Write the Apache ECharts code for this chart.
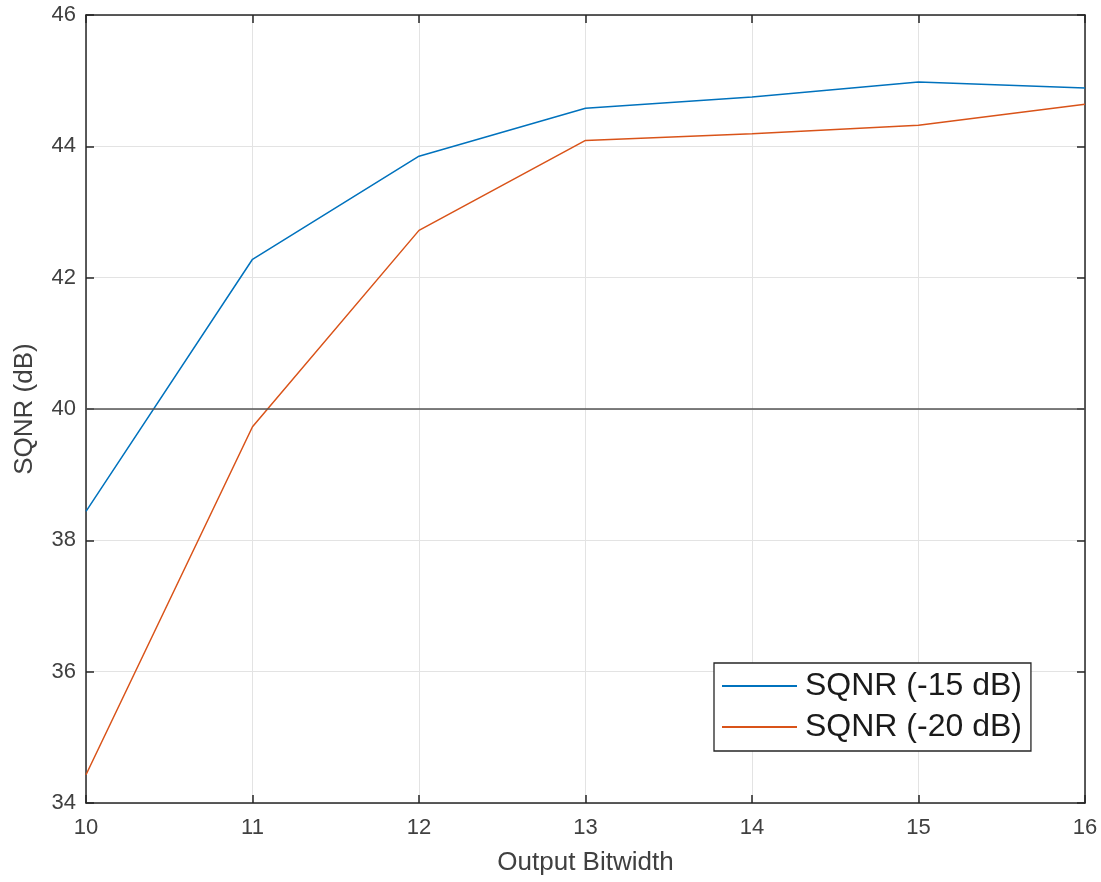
<!DOCTYPE html>
<html><head><meta charset="utf-8">
<script src="https://cdn.jsdelivr.net/npm/echarts@6/dist/echarts.min.js"></script>
<style>html,body{margin:0;padding:0;background:#fff}#c{width:1101px;height:882px}</style>
</head><body><div id="c"></div>
<script>
const bitwidths = [10, 11, 12, 13, 14, 15, 16];
const sqnr15 = [38.44, 42.28, 43.85, 44.58, 44.75, 44.98, 44.89];
const sqnr20 = [34.43, 39.73, 42.72, 44.09, 44.19, 44.32, 44.64];
const refLevel = 40;
const seriesNames = ['SQNR (-15 dB)', 'SQNR (-20 dB)'];

const chart = echarts.init(document.getElementById('c'), null, {renderer: 'canvas'});
const axisCol = '#262626';
const labCol = '#404040';
const font = 'Liberation Sans, Arial, sans-serif';
const hidden = {show: false};
chart.setOption({
  animation: false,
  backgroundColor: '#fff',
  grid: {left: 86, right: 16, top: 15, bottom: 79, containLabel: false},
  legend: {
    show: true, orient: 'vertical', left: 714, top: 663,
    padding: [7, 9, 8, 8],
    itemWidth: 75, itemHeight: 2, itemGap: 9, icon: 'rect',
    backgroundColor: '#fff', borderColor: axisCol, borderWidth: 1.3,
    textStyle: {fontSize: 32, color: '#1a1a1a', fontFamily: font, padding: [0, 0, 0, 3]},
    data: seriesNames
  },
  xAxis: [{
    type: 'value', min: 10, max: 16, interval: 1,
    name: 'Output Bitwidth', nameLocation: 'middle', nameGap: 47,
    nameTextStyle: {fontSize: 26, color: labCol, fontFamily: font},
    axisLine: {show: true, onZero: false, lineStyle: {color: axisCol, width: 1.5}},
    axisTick: {show: true, inside: true, length: 8, lineStyle: {color: axisCol, width: 1.5}},
    axisLabel: {fontSize: 22, color: labCol, fontFamily: font, margin: 14},
    splitLine: {show: true, lineStyle: {color: '#e3e3e3', width: 1}}
  }, {
    type: 'value', min: 10, max: 16, interval: 1, position: 'top',
    axisLine: {show: true, onZero: false, lineStyle: {color: axisCol, width: 1.5}},
    axisTick: {show: true, inside: true, length: 8, lineStyle: {color: axisCol, width: 1.5}},
    axisLabel: hidden, splitLine: hidden
  }],
  yAxis: [{
    type: 'value', min: 34, max: 46, interval: 2,
    name: 'SQNR (dB)', nameLocation: 'middle', nameGap: 48, nameRotate: 90,
    nameTextStyle: {fontSize: 26, color: labCol, fontFamily: font},
    axisLine: {show: true, onZero: false, lineStyle: {color: axisCol, width: 1.5}},
    axisTick: {show: true, inside: true, length: 8, lineStyle: {color: axisCol, width: 1.5}},
    axisLabel: {fontSize: 22, color: labCol, fontFamily: font, margin: 10},
    splitLine: {show: true, lineStyle: {color: '#e3e3e3', width: 1}}
  }, {
    type: 'value', min: 34, max: 46, interval: 2, position: 'right',
    axisLine: {show: true, onZero: false, lineStyle: {color: axisCol, width: 1.5}},
    axisTick: {show: true, inside: true, length: 8, lineStyle: {color: axisCol, width: 1.5}},
    axisLabel: hidden, splitLine: hidden
  }],
  series: [{
    name: seriesNames[0], type: 'line', showSymbol: false, symbol: 'none',
    color: '#0072BD', lineStyle: {width: 1.5, color: '#0072BD'},
    data: bitwidths.map((b, i) => [b, sqnr15[i]]),
    markLine: {
      silent: true, symbol: ['none', 'none'], label: {show: false},
      lineStyle: {color: '#555555', width: 1.6, type: 'solid'},
      data: [{yAxis: refLevel}]
    },
    z: 3
  }, {
    name: seriesNames[1], type: 'line', showSymbol: false, symbol: 'none',
    color: '#D95319', lineStyle: {width: 1.5, color: '#D95319'},
    data: bitwidths.map((b, i) => [b, sqnr20[i]]),
    z: 3
  }]
});
</script></body></html>
